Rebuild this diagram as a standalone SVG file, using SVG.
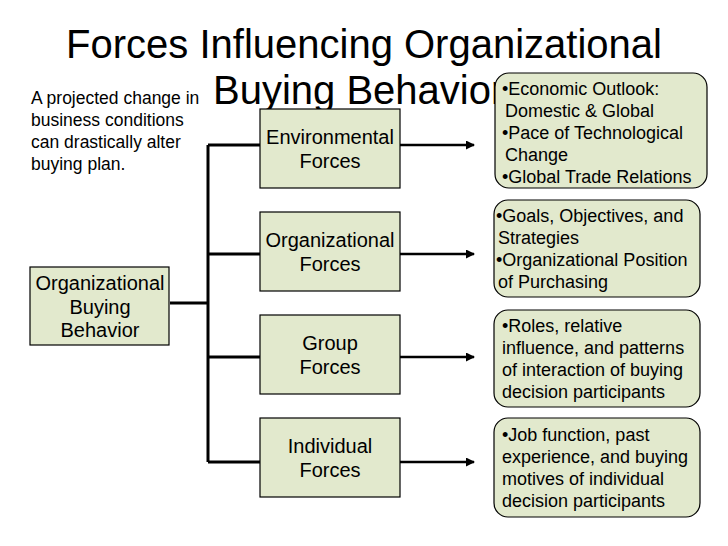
<svg xmlns="http://www.w3.org/2000/svg" width="728" height="546" viewBox="0 0 728 546">
<style>
text{font-family:"Liberation Sans",Arial,sans-serif;fill:#000}
.box{fill:#e2e9cd;stroke:#000;stroke-width:1.2}
.c{font-size:20px;text-anchor:middle}
.r{font-size:18px}
.n{font-size:17.5px}
.ln{stroke:#000;stroke-width:3;fill:none}
.ar{stroke:#000;stroke-width:2.5;fill:none;marker-end:url(#ah)}
</style>
<defs><marker id="ah" markerWidth="9" markerHeight="9" refX="8" refY="4.5" orient="auto" markerUnits="userSpaceOnUse"><path d="M0,0 L9,4.5 L0,9 z" fill="#000"/></marker></defs>
<rect width="728" height="546" fill="#fff"/>
<g id="title"><text x="364" y="58" font-size="40" text-anchor="middle">Forces Influencing Organizational</text>
<text x="213" y="104" font-size="40">Buying Behavior</text></g>
<g id="note"><text class="n" x="31" y="104">A projected change in</text><text class="n" x="31" y="126">business conditions</text><text class="n" x="31" y="148">can drastically alter</text><text class="n" x="31" y="170">buying plan.</text></g>
<g id="connectors">
<path class="ln" d="M208,145 V462 M170,303 H208 M208,145 H261 M208,254 H261 M208,357 H261 M208,462 H261"/>
<path class="ar" d="M400,145 H474"/><path class="ar" d="M400,254 H474"/><path class="ar" d="M400,357 H474"/><path class="ar" d="M400,462 H474"/>
</g>
<g id="obb"><rect class="box" x="30" y="267" width="139" height="78"/><text class="c" x="100" y="290">Organizational</text><text class="c" x="100" y="314">Buying</text><text class="c" x="100" y="337">Behavior</text></g>
<g id="env"><rect class="box" x="260" y="109" width="140" height="79"/><text class="c" x="330" y="144">Environmental</text><text class="c" x="330" y="168">Forces</text></g>
<g id="org"><rect class="box" x="260" y="212" width="140" height="79"/><text class="c" x="330" y="247">Organizational</text><text class="c" x="330" y="271">Forces</text></g>
<g id="grp"><rect class="box" x="260" y="315" width="140" height="79"/><text class="c" x="330" y="350">Group</text><text class="c" x="330" y="374">Forces</text></g>
<g id="ind"><rect class="box" x="260" y="418" width="140" height="79"/><text class="c" x="330" y="453">Individual</text><text class="c" x="330" y="477">Forces</text></g>
<g id="envd"><rect class="box" x="495" y="73" width="212" height="115" rx="14"/><text class="r" x="502" y="95">•Economic Outlook:</text><text class="r" x="505" y="117">Domestic &amp; Global</text><text class="r" x="502" y="139">•Pace of Technological</text><text class="r" x="505" y="161">Change</text><text class="r" x="502" y="183">•Global Trade Relations</text></g>
<g id="orgd"><rect class="box" x="494" y="200" width="206" height="97" rx="14"/><text class="r" x="496" y="222">•Goals, Objectives, and</text><text class="r" x="498" y="244">Strategies</text><text class="r" x="496" y="266">•Organizational Position</text><text class="r" x="498" y="288">of Purchasing</text></g>
<g id="grpd"><rect class="box" x="494" y="310" width="206" height="97" rx="14"/><text class="r" x="502" y="332">•Roles, relative</text><text class="r" x="502" y="354">influence, and patterns</text><text class="r" x="502" y="376">of interaction of buying</text><text class="r" x="502" y="398">decision participants</text></g>
<g id="indd"><rect class="box" x="494" y="418" width="206" height="99" rx="14"/><text class="r" x="502" y="441">•Job function, past</text><text class="r" x="502" y="463">experience, and buying</text><text class="r" x="502" y="485">motives of individual</text><text class="r" x="502" y="507">decision participants</text></g>
</svg>
